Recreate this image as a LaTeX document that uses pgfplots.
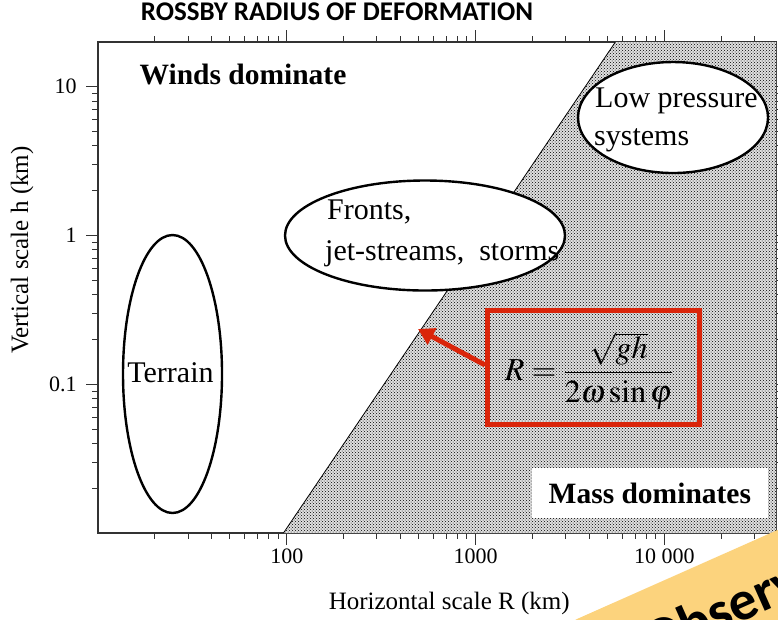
\documentclass[border=0pt]{standalone}
\usepackage{mathptmx}
\usepackage{fontspec}
\setmainfont{Liberation Serif}
\newfontfamily\calibri{Carlito}
\usepackage{pgfplots}
\pgfplotsset{compat=1.18}
\usetikzlibrary{patterns,arrows.meta}

\definecolor{boxred}{RGB}{218,37,10}
\definecolor{banner}{RGB}{252,211,125}

\begin{document}
\begin{tikzpicture}[x=1pt,y=1pt]
\path[use as bounding box] (0,0) rectangle (778,619);
\begin{axis}[
  at={(98pt,86pt)}, anchor=south west,
  scale only axis, width=678pt, height=491pt,
  xmode=log, ymode=log,
  xmin=10, xmax=39000, ymin=0.01, ymax=20,
  xtick={100,1000,10000}, xticklabels={100,1000,10 000},
  ytick={0.1,1,10}, yticklabels={0.1,1,10},
  minor xtick={20,30,40,50,60,70,80,90,200,300,400,500,600,700,800,900,
    2000,3000,4000,5000,6000,7000,8000,9000,20000,30000},
  minor ytick={0.02,0.03,0.04,0.05,0.06,0.07,0.08,0.09,0.2,0.3,0.4,0.5,0.6,0.7,0.8,0.9,
    2,3,4,5,6,7,8,9},
  tick align=outside, major tick length=12pt, minor tick length=6pt,
  tick style={line width=1pt, black!80},
  axis line style={line width=1.3pt, black!80},
  ticklabel style={font=\fontsize{22}{26}\selectfont},
  yticklabel style={xshift=-6pt},
  xlabel={Horizontal scale R (km)},
  ylabel={Vertical scale h (km)},
  label style={font=\fontsize{25}{30}\selectfont},
  xlabel style={at={(axis description cs:0.518,-0.1426)}, anchor=center},
  ylabel style={at={(axis description cs:-0.112,0.576)}, anchor=center, rotate=0},
  title={\calibri\bfseries ROSSBY RADIUS OF DEFORMATION},
  title style={font=\fontsize{27}{30}\selectfont, at={(axis description cs:0.3525,1.0489)}, anchor=center},
]
% region where mass dominates
\addplot[draw=none, fill=black!12]
  coordinates {(96,0.01) (5500,20) (39000,20) (39000,0.01)} -- cycle;
\addplot[draw=none, pattern=crosshatch dots, pattern color=black]
  coordinates {(96,0.01) (5500,20) (39000,20) (39000,0.01)} -- cycle;
\addplot[black, line width=0.8pt] coordinates {(96,0.01) (5500,20)};

% ellipses
\draw[line width=2.4pt, fill=white] (rel axis cs:0.1099,0.3238) ellipse [x radius=49.5pt, y radius=139pt];
\draw[line width=2.4pt, fill=white] (rel axis cs:0.4823,0.6059) ellipse [x radius=140pt, y radius=55pt];
\draw[line width=2.4pt, fill=white] (rel axis cs:0.8481,0.8462) ellipse [x radius=95pt, y radius=55.5pt];

\begin{scope}[every node/.style={font=\fontsize{30}{36}\selectfont, inner sep=0pt}]
\node at (rel axis cs:0.1069,0.3259) {Terrain};
\node[anchor=base west] at (rel axis cs:0.3378,0.6375) {Fronts,};
\node[anchor=base west] at (rel axis cs:0.3348,0.556) {jet-streams,\ \ storms};
\node[anchor=base west] at (rel axis cs:0.733,0.8656) {Low pressure};
\node[anchor=base west] at (rel axis cs:0.7316,0.790) {systems};
\node[font=\fontsize{29.5}{34}\selectfont\bfseries] at (rel axis cs:0.2139,0.9348) {Winds dominate};
\node[font=\fontsize{29.5}{34}\selectfont\bfseries, fill=white, minimum width=236pt, minimum height=50pt]
  at (rel axis cs:0.814,0.0815) {Mass dominates};
\end{scope}

% formula box and arrow
\draw[boxred, line width=5pt] (rel axis cs:0.5745,0.221) rectangle (rel axis cs:0.8872,0.4532);
\node[font=\fontsize{32}{38}\selectfont] at (rel axis cs:0.7242,0.3299)
  {$\displaystyle R=\frac{\sqrt{gh}}{2\omega\sin\varphi}$};
\draw[boxred, line width=5pt, -{Triangle[length=16pt,width=18pt]}]
  (rel axis cs:0.5708,0.3422) -- (rel axis cs:0.472,0.4155);
\end{axis}

% corner banner, cut by the picture edge
\begin{scope}
\clip (0,0) rectangle (778,619);
\fill[banner] (560,-10) -- (577,0) -- (800,99) -- (800,-10) -- cycle;
\node[rotate=24, anchor=base west, font=\fontsize{56}{64}\selectfont\calibri\bfseries, inner sep=0pt]
  at (654,-42) {Observations};
\end{scope}
\end{tikzpicture}
\end{document}
